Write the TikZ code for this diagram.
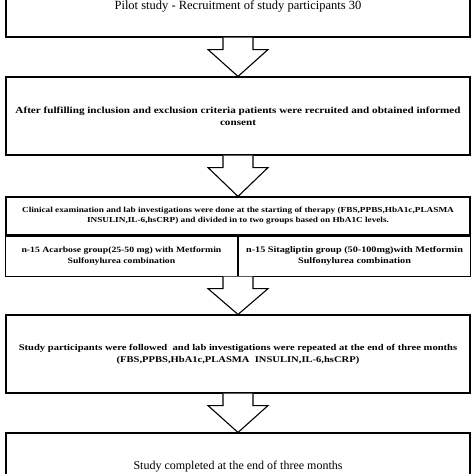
\documentclass[tikz,border=0pt]{standalone}
\usepackage{fontspec}
\setmainfont{Liberation Serif}
\newfontfamily\widefont[FakeStretch=1.2]{Liberation Serif}
\usetikzlibrary{calc}
\begin{document}
\begin{tikzpicture}[x=1pt,y=-1pt,
  box/.style={draw,line width=1.1pt,minimum width=464pt,inner sep=0pt,align=center},
  cell/.style={draw,line width=1.1pt,inner sep=0pt,align=center,minimum width=232pt,minimum height=40pt},
  bigarrow/.style={draw,line width=1.1pt,fill=white,line join=miter}]
\useasboundingbox (0,0) rectangle (474,474);
\clip (0,0) rectangle (474,474);
\node[box,minimum height=62pt,font=\fontsize{12.5}{14}\selectfont] (b1) at (238,6) {Pilot study - Recruitment of study participants 30};
\node[box,minimum height=78pt,font=\widefont\bfseries\fontsize{9.3}{12}\selectfont] (b2) at (238,116) {After fulfilling inclusion and exclusion criteria patients were recruited and obtained informed\\consent};
\node[box,minimum height=38pt,font=\widefont\bfseries\fontsize{7.7}{9.8}\selectfont] (b3) at (238,216) {Clinical examination and lab investigations were done at the starting of therapy (FBS,PPBS,HbA1c,PLASMA\\INSULIN,IL-6,hsCRP) and divided in to two groups based on HbA1C levels.};
\node[cell,anchor=north east,font=\widefont\bfseries\fontsize{8.1}{11}\selectfont] (b3l) at (b3.south) {n-15 Acarbose group(25-50 mg) with Metformin\\Sulfonylurea combination};
\node[cell,anchor=north west,font=\widefont\bfseries\fontsize{8.5}{11}\selectfont] (b3r) at (b3.south) {n-15 Sitagliptin group (50-100mg)with Metformin\\Sulfonylurea combination};
\coordinate (b3b) at (b3l.south east);
\node[box,minimum height=78pt,font=\widefont\bfseries\fontsize{8.8}{12}\selectfont] (b4) at (238,354) {Study participants were followed\ \ and lab investigations were repeated at the end of three months\\(FBS,PPBS,HbA1c,PLASMA\ \ INSULIN,IL-6,hsCRP)};
\node[box,minimum height=68pt,font=\fontsize{12}{14}\selectfont] (b5) at (238,467) {Study completed at the end of three months};
\foreach \a/\b in {b1.south/b2.north, b2.south/b3.north, b3b/b4.north, b4.south/b5.north}{
  \draw[bigarrow] ($(\a)+(-15,0)$) -- ++(0,12) -- ++(-15,0) -- (\b) -- ($(\a)+(30,12)$) -- ++(-15,0) -- ++(0,-12);
}
\end{tikzpicture}
\end{document}
